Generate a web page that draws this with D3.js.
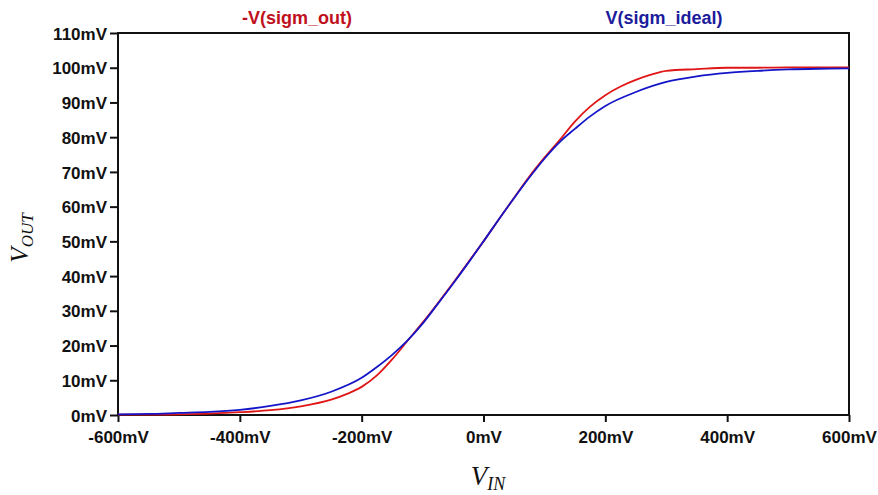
<!DOCTYPE html>
<html>
<head>
<meta charset="utf-8">
<script src="https://cdn.jsdelivr.net/npm/d3@7"></script>
<style>
  html, body { margin: 0; padding: 0; background: #fff; }
  svg { display: block; }
</style>
</head>
<body>
<div id="chart"></div>
<script>
// ---- Data (mV) ----
const vinIdeal = [-600,-550,-500,-450,-400,-350,-300,-250,-200,-175,-150,-125,-100,-75,-50,-25,0,25,50,75,100,125,150,175,200,250,300,350,400,450,500,550,600];
const voutIdeal = [0.2,0.3,0.6,0.9,1.5,2.6,4.2,6.7,10.7,13.8,17.3,21.4,26.3,32.0,37.8,43.8,50.0,56.3,62.4,68.3,73.8,78.6,82.4,86.0,89.0,93.0,95.9,97.5,98.5,99.1,99.5,99.7,99.8];

const vinOut = [-600,-550,-500,-450,-400,-350,-300,-250,-225,-200,-175,-150,-125,-100,-75,-50,-25,0,25,50,75,100,125,150,175,200,225,250,275,300,350,400,450,500,550,600];
const voutOut = [0.1,0.1,0.2,0.4,0.8,1.4,2.5,4.4,6.0,8.1,11.4,16.0,21.3,26.6,32.2,38.0,44.0,50.0,56.3,62.5,68.6,74.1,79.2,84.5,88.8,92.1,94.6,96.5,98.0,99.1,99.6,100.0,100.0,100.1,100.1,100.1];

const xTicks = [-600,-400,-200,0,200,400,600];
const yTicks = [0,10,20,30,40,50,60,70,80,90,100,110];
const seriesNames = ["-V(sigm_out)", "V(sigm_ideal)"];

// ---- Layout ----
const W = 878, H = 495;
const m = {left: 118, right: 29, top: 33, bottom: 80};
const iw = W - m.left - m.right, ih = H - m.top - m.bottom;

const svg = d3.select("#chart").append("svg").attr("width", W).attr("height", H);
const g = svg.append("g").attr("transform", `translate(${m.left},${m.top})`);

const x = d3.scaleLinear().domain([-600, 600]).range([0, iw]);
const y = d3.scaleLinear().domain([0, 110]).range([ih, 0]);

// axes
const fmt = d => d + "mV";
const xAxis = g.append("g").attr("transform", `translate(0,${ih})`)
  .call(d3.axisBottom(x).tickValues(xTicks).tickFormat(fmt).tickSize(7).tickPadding(9));
const yAxis = g.append("g")
  .call(d3.axisLeft(y).tickValues(yTicks).tickFormat(fmt).tickSize(8).tickPadding(3));

[xAxis, yAxis].forEach(a => {
  a.select(".domain").remove();
  a.selectAll(".tick line").attr("stroke", "#111").attr("stroke-width", 2);
  a.selectAll(".tick text")
    .attr("fill", "#111")
    .style("font-family", "'Liberation Sans', Arial, sans-serif")
    .style("font-weight", "bold")
    .style("font-size", "17px");
});
yAxis.selectAll(".tick text").attr("dy", "0.36em");

// frame
g.append("rect").attr("x", 0).attr("y", 0).attr("width", iw).attr("height", ih)
  .attr("fill", "none").attr("stroke", "#111").attr("stroke-width", 2);

// lines
const line = d3.line().x(d => x(d[0])).y(d => y(d[1])).curve(d3.curveMonotoneX);
const outData = vinOut.map((v, i) => [v, voutOut[i]]);
const idealData = vinIdeal.map((v, i) => [v, voutIdeal[i]]);

g.append("path").datum(outData).attr("d", line)
  .attr("fill", "none").attr("stroke", "#e01515").attr("stroke-width", 1.8);
g.append("path").datum(idealData).attr("d", line)
  .attr("fill", "none").attr("stroke", "#1515c8").attr("stroke-width", 1.8);

// legend labels
const legFont = "'Liberation Sans', Arial, sans-serif";
svg.append("text").attr("x", 297).attr("y", 24).attr("text-anchor", "middle")
  .style("font-family", legFont).style("font-weight", "bold").style("font-size", "18px")
  .attr("fill", "#c01020").text(seriesNames[0]);
svg.append("text").attr("x", 664).attr("y", 24).attr("text-anchor", "middle")
  .style("font-family", legFont).style("font-weight", "bold").style("font-size", "18px")
  .attr("fill", "#1c1c9c").text(seriesNames[1]);

// axis titles
const serif = "'Liberation Serif', 'Times New Roman', serif";
const xt = svg.append("text").attr("x", 488).attr("y", 485).attr("text-anchor", "middle")
  .style("font-family", serif).style("font-style", "italic").attr("fill", "#111");
xt.append("tspan").style("font-size", "27px").text("V");
xt.append("tspan").style("font-size", "18px").attr("dy", 5).text("IN");

const yt = svg.append("text").attr("transform", "translate(28,238) rotate(-90)")
  .attr("text-anchor", "middle")
  .style("font-family", serif).style("font-style", "italic").attr("fill", "#111");
yt.append("tspan").style("font-size", "25px").text("V");
yt.append("tspan").style("font-size", "17px").attr("dy", 5).text("OUT");
</script>
</body>
</html>
